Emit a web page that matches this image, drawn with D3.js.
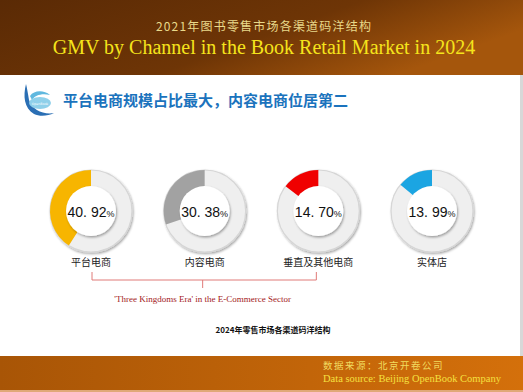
<!DOCTYPE html>
<html>
<head>
<meta charset="utf-8">
<script src="https://cdn.jsdelivr.net/npm/d3@7"></script>
<style>
  body { margin: 0; background: #fff; }
  svg { display: block; }
</style>
</head>
<body>
<svg id="chart" width="523" height="392"></svg>
<script>
// channel shares
const channels = ["平台电商", "内容电商", "垂直及其他电商", "实体店"];
const shares = [40.92, 30.38, 14.70, 13.99];
const ringColors = ["#f7b500", "#a2a2a2", "#f00000", "#1ba5e2"];
const bracketed = ["平台电商", "垂直及其他电商"];

const svg = d3.select("#chart");
const W = 523, H = 392;
const defs = svg.append("defs");

const hdr = defs.append("linearGradient").attr("id", "hdr")
    .attr("x1", 0).attr("y1", 0).attr("x2", 1).attr("y2", 0.4);
hdr.append("stop").attr("offset", 0).attr("stop-color", "#5a2a05");
hdr.append("stop").attr("offset", 0.6).attr("stop-color", "#6e3506");
hdr.append("stop").attr("offset", 1).attr("stop-color", "#a5560c");

const ftr = defs.append("linearGradient").attr("id", "ftr")
    .attr("x1", 0).attr("y1", 0).attr("x2", 1).attr("y2", 0);
ftr.append("stop").attr("offset", 0).attr("stop-color", "#a85506");
ftr.append("stop").attr("offset", 1).attr("stop-color", "#d4700b");

const shadow = defs.append("filter").attr("id", "shadow")
    .attr("x", "-30%").attr("y", "-30%").attr("width", "160%").attr("height", "160%");
shadow.append("feDropShadow").attr("dx", 1).attr("dy", 1.5)
    .attr("stdDeviation", 1.3).attr("flood-color", "#000").attr("flood-opacity", 0.35);

// header band
svg.append("rect").attr("width", W).attr("height", 75).attr("fill", "url(#hdr)");
svg.append("text").attr("x", 264).attr("y", 31).attr("text-anchor", "middle")
    .attr("font-family", "Noto Sans CJK SC").attr("font-size", 12)
    .attr("letter-spacing", 1.2).attr("fill", "#e9d98a")
    .text("2021年图书零售市场各渠道码洋结构");
svg.append("text").attr("x", 264).attr("y", 54).attr("text-anchor", "middle")
    .attr("font-family", "Liberation Serif").attr("font-size", 20)
    .attr("fill", "#f5e41c")
    .text("GMV by Channel in the Book Retail Market in 2024");

// right edge
svg.append("rect").attr("x", 520).attr("y", 75).attr("width", 3).attr("height", 281).attr("fill", "#d8d8d8");

// logo
const logo = svg.append("g").attr("transform", "translate(20,82)");
logo.append("path").attr("d", "M6,2 C3,14 4,26 14,32 C20,35 28,34 34,31 C24,33 12,28 9,18 C8,12 7,6 6,2Z")
    .attr("fill", "#2b6fb4");
logo.append("path").attr("d", "M10,14 C14,8 24,8 30,13 C22,11 15,13 12,18Z").attr("fill", "#5fb8df");
logo.append("ellipse").attr("cx", 20).attr("cy", 21).attr("rx", 11).attr("ry", 6).attr("fill", "#8fd0ea");
logo.append("text").attr("x", 20).attr("y", 22.5).attr("text-anchor", "middle")
    .attr("font-family", "DejaVu Sans").attr("font-size", 3.2).attr("fill", "#fff").text("OpenBook");

svg.append("text").attr("x", 63).attr("y", 106)
    .attr("font-family", "Noto Sans CJK SC").attr("font-size", 15).attr("font-weight", "bold")
    .attr("fill", "#1b73bd")
    .text("平台电商规模占比最大，内容电商位居第二");

// rings
const x = d3.scalePoint().domain(channels).range([91, 432]);
const cy = 211;
const outerR = 41, innerR = 25;
const frac = d3.scaleLinear().domain([0, 100]).range([0, 2 * Math.PI]);
const arc = d3.arc().innerRadius(innerR - 2).outerRadius(outerR);

const ring = svg.selectAll("g.ring")
    .data(channels.map((c, i) => ({ name: c, value: shares[i], color: ringColors[i] })))
    .join("g").attr("class", "ring")
    .attr("transform", d => `translate(${x(d.name)},${cy})`);

ring.append("circle").attr("r", outerR).attr("fill", "#efefef")
    .attr("stroke", "#d6d6d6").attr("stroke-width", 1.2).attr("filter", "url(#shadow)");
ring.append("path")
    .attr("d", d => arc({ startAngle: -frac(d.value), endAngle: 0 }))
    .attr("fill", d => d.color);
ring.append("circle").attr("r", innerR).attr("fill", "#fff").attr("filter", "url(#shadow)");

const pct = ring.append("text").attr("text-anchor", "middle").attr("y", 5.5)
    .attr("font-family", "Liberation Sans").attr("font-size", 14).attr("fill", "#111");
pct.append("tspan").text(d => d.value.toFixed(2).replace(".", ". "));
pct.append("tspan").attr("font-size", 9).text("%");

ring.append("text").attr("text-anchor", "middle").attr("y", 55)
    .attr("font-family", "Noto Sans CJK SC").attr("font-size", 10).attr("fill", "#222")
    .text(d => d.name);

// bracket over the e-commerce channels
const bx0 = x(bracketed[0]) + 1, bx1 = x(bracketed[1]) - 2;
const bmid = (bx0 + x("内容电商")) / 2 + (x("内容电商") - bx0) / 2 - 2;
svg.append("path")
    .attr("d", `M${bx0},272 V280 H${bx1} V272 M${bmid},280 V288`)
    .attr("fill", "none").attr("stroke", "#e07a78").attr("stroke-width", 1);
svg.append("text").attr("x", bmid).attr("y", 302).attr("text-anchor", "middle")
    .attr("font-family", "Liberation Serif").attr("font-size", 9).attr("fill", "#a3191b")
    .text("'Three Kingdoms Era' in the E-Commerce Sector");

svg.append("text").attr("x", 273).attr("y", 333).attr("text-anchor", "middle")
    .attr("font-family", "Noto Sans CJK SC").attr("font-size", 8).attr("font-weight", "bold")
    .attr("fill", "#111")
    .text("2024年零售市场各渠道码洋结构");

// footer band
svg.append("rect").attr("y", 356).attr("width", W).attr("height", 35).attr("fill", "url(#ftr)");
svg.append("rect").attr("y", 390).attr("width", W).attr("height", 2).attr("fill", "#e0a878");
svg.append("text").attr("x", 323).attr("y", 369)
    .attr("font-family", "Noto Sans CJK SC").attr("font-size", 9.5)
    .attr("letter-spacing", 1.5).attr("fill", "#f1dc60")
    .text("数据来源：北京开卷公司");
svg.append("text").attr("x", 323).attr("y", 382)
    .attr("font-family", "Liberation Serif").attr("font-size", 10.5).attr("fill", "#f5e040")
    .text("Data source: Beijing OpenBook Company");
</script>
</body>
</html>
